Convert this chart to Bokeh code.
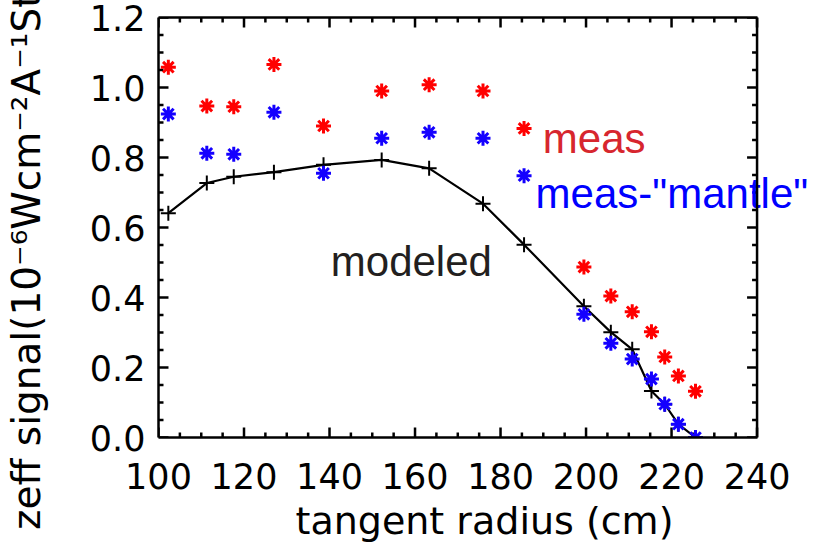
import numpy as np
from bokeh.plotting import figure
from bokeh.models import (Range1d, LinearAxis, FixedTicker, PrintfTickFormatter,
                          Label, Span)
from bokeh.embed import file_html
from bokeh.resources import INLINE

# Tangent radius of each chord (cm)
radius = [102.3, 111.3, 117.6, 127.0, 138.6, 152.2, 163.3, 175.9, 185.5,
          199.5, 205.8, 210.8, 215.3, 218.4, 221.6, 225.6]
# Measured zeff signal
meas = [1.058, 0.947, 0.945, 1.066, 0.890, 0.990, 1.008, 0.990, 0.883,
        0.487, 0.404, 0.359, 0.302, 0.230, 0.176, 0.132]
# Measured signal with the "mantle" contribution removed
meas_minus_mantle = [0.924, 0.812, 0.809, 0.929, 0.755, 0.855, 0.872, 0.855, 0.748,
                     0.352, 0.269, 0.224, 0.167, 0.095, 0.038, 0.000]
# Modeled signal
modeled = [0.641, 0.727, 0.745, 0.758, 0.779, 0.793, 0.769, 0.668, 0.551,
           0.375, 0.301, 0.252, 0.133, 0.095, 0.038, 0.000]

# Axis ticks
x_major = [100, 120, 140, 160, 180, 200, 220, 240]
y_major = [0.0, 0.2, 0.4, 0.6, 0.8, 1.0, 1.2]
X_MIN, X_MAX = 100, 240
Y_MIN, Y_MAX = 0.0, 1.2
x_minor = [float(v) for v in np.arange(X_MIN, X_MAX + 0.1, 5) if v not in x_major]
y_minor = [round(float(v), 3) for v in np.arange(Y_MIN, Y_MAX + 0.01, 0.05)
           if not np.isclose(v, y_major).any()]

AXIS_FONT = "DejaVu Sans"
TEXT_FONT = "Liberation Sans"

W, H = 827, 545
B_LEFT, B_RIGHT, B_TOP, B_BOTTOM = 157, 17, 17, 106
# the plotting area runs a little past the last x tick so the legend text
# can overhang the right-hand border line of the box
X_END = 252.5
PX_PER_X = (W - B_LEFT - B_RIGHT) / (X_END - X_MIN)
PX_PER_Y = (H - B_TOP - B_BOTTOM) / (Y_MAX - Y_MIN)

p = figure(width=W, height=H, output_backend="svg", toolbar_location=None,
           x_range=Range1d(X_MIN, X_END), y_range=Range1d(Y_MIN, Y_MAX),
           min_border_left=B_LEFT, min_border_right=B_RIGHT,
           min_border_top=B_TOP, min_border_bottom=B_BOTTOM,
           x_axis_label="tangent radius (cm)",
           y_axis_label="zeff signal(10\u207b\u2076Wcm\u207b\u00b2A\u207b\u00b9Str\u207b\u00b9)")
p.grid.visible = False
p.outline_line_color = None
p.background_fill_color = "white"
p.border_fill_color = "white"

bottom_axis = p.below[0]
left_axis = p.left[0]
bottom_axis.ticker = FixedTicker(ticks=x_major)
bottom_axis.bounds = (X_MIN, X_MAX)
left_axis.ticker = FixedTicker(ticks=y_major)
left_axis.formatter = PrintfTickFormatter(format="%.1f")

top_axis = LinearAxis(ticker=FixedTicker(ticks=[]), bounds=(X_MIN, X_MAX))
p.add_layout(top_axis, "above")

for ax in p.axis:
    # keep the axis panels transparent so the inward ticks show through
    for prop, val in (("background_fill_color", None), ("background_fill_alpha", 0)):
        try:
            setattr(ax, prop, val)
        except Exception:
            pass
    ax.axis_line_width = 2.5
    ax.axis_line_color = "black"
    ax.major_tick_line_color = None
    ax.minor_tick_line_color = None
    ax.major_tick_in = 0
    ax.major_tick_out = 0
    ax.minor_tick_in = 0
    ax.minor_tick_out = 0
    ax.major_label_text_font = AXIS_FONT
    ax.major_label_text_font_size = "35px"
    ax.major_label_text_color = "black"
    ax.axis_label_text_font = AXIS_FONT
    ax.axis_label_text_font_size = "38px"
    ax.axis_label_text_font_style = "normal"
    ax.axis_label_text_color = "black"

bottom_axis.major_label_standoff = 25
bottom_axis.axis_label_standoff = 7
left_axis.major_label_standoff = 13
left_axis.axis_label_standoff = 38
left_axis.axis_label_text_font_size = "39px"

# Inward tick marks on all four sides of the box, drawn as short segments
# (the part beyond the left, bottom and top borders is clipped away).
TICK_MAJOR, TICK_MINOR, TICK_W = 10, 5, 2.5
for xs, ln in ((x_major, TICK_MAJOR), (x_minor, TICK_MINOR)):
    dy = ln / PX_PER_Y
    n = len(xs)
    p.segment(x0=xs, y0=[Y_MIN - dy] * n, x1=xs, y1=[Y_MIN + dy] * n,
              line_color="black", line_width=TICK_W)
    p.segment(x0=xs, y0=[Y_MAX - dy] * n, x1=xs, y1=[Y_MAX + dy] * n,
              line_color="black", line_width=TICK_W)
for ys, ln in ((y_major, TICK_MAJOR), (y_minor, TICK_MINOR)):
    dx = ln / PX_PER_X
    n = len(ys)
    p.segment(x0=[X_MIN - dx] * n, y0=ys, x1=[X_MIN + dx] * n, y1=ys,
              line_color="black", line_width=TICK_W)
    p.segment(x0=[X_MAX - dx] * n, y0=ys, x1=[X_MAX] * n, y1=ys,
              line_color="black", line_width=TICK_W)

# modeled curve
p.line(radius, modeled, line_color="black", line_width=2.2)
p.scatter(radius, modeled, marker="cross", size=15, line_color="black", line_width=2)
# measurements
p.scatter(radius, meas, marker="asterisk", size=15, line_color="#ff0000", line_width=3)
p.scatter(radius, meas_minus_mantle, marker="asterisk", size=15, line_color="#1400ff",
          line_width=3)

p.add_layout(Label(x=189.9, y=0.8555, text="meas", text_font=TEXT_FONT,
                   text_font_size="42px", text_color="#d7262e",
                   text_baseline="alphabetic", text_align="left"))
p.add_layout(Label(x=188.2, y=0.698, text='meas-"mantle"', text_font=TEXT_FONT,
                   text_font_size="42px", text_color="#0000ff",
                   text_baseline="alphabetic", text_align="left"))
p.add_layout(Label(x=140.3, y=0.503, text="modeled", text_font=TEXT_FONT,
                   text_font_size="42px", text_color="#231f20",
                   text_baseline="alphabetic", text_align="left"))

# right-hand border of the box
p.add_layout(Span(location=X_MAX, dimension="height", line_color="black",
                  line_width=2.5))

open("out.html", "w").write(file_html(p, INLINE))
